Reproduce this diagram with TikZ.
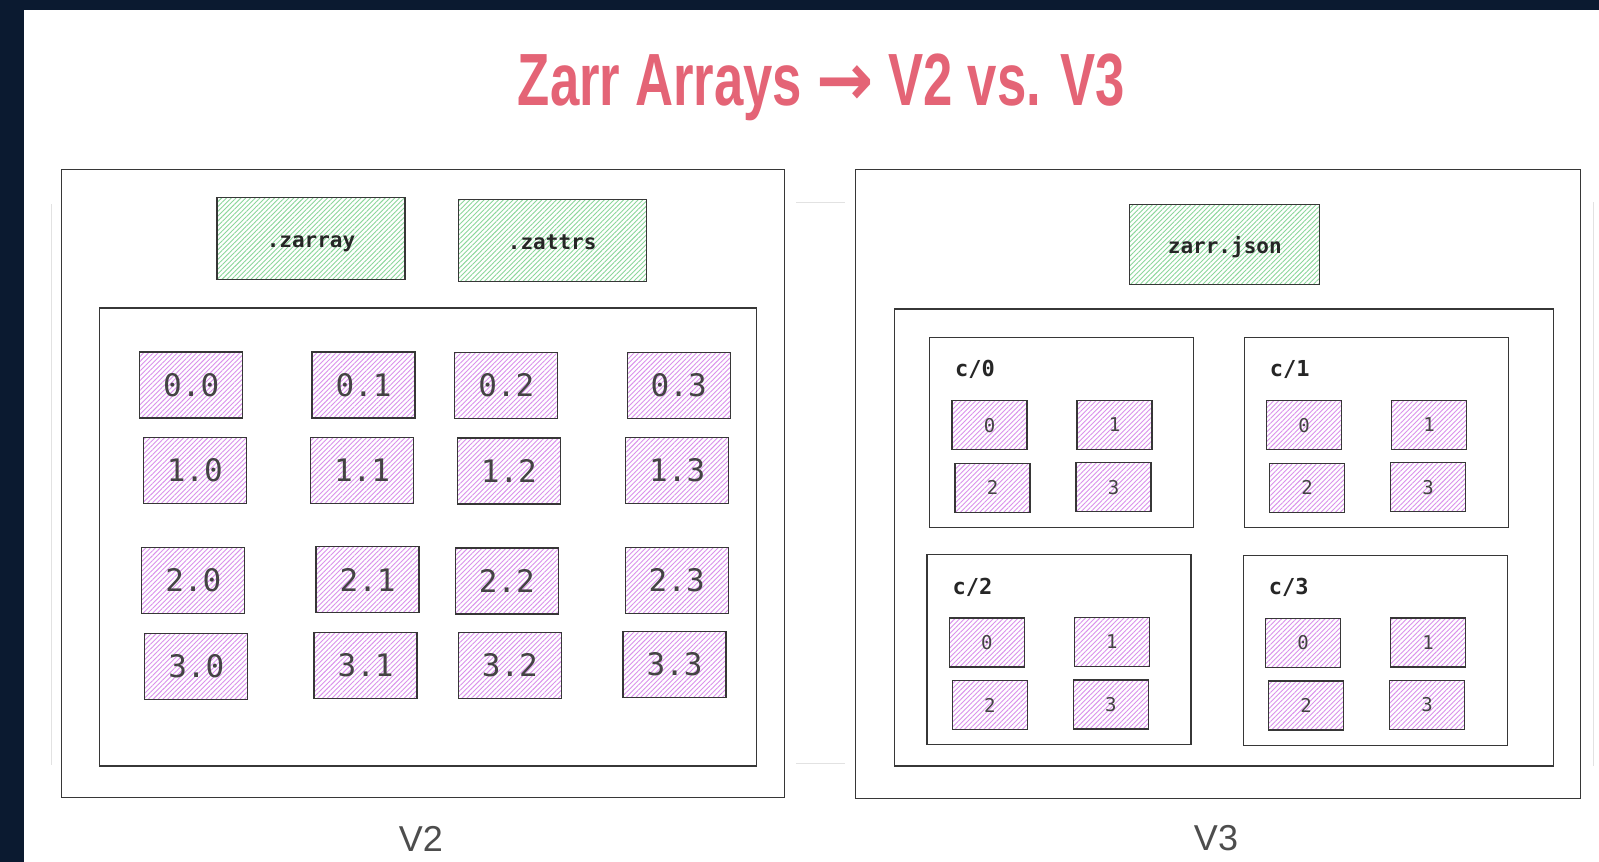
\documentclass[tikz,border=0pt]{standalone}
\usepackage{fontspec}
\usepackage{graphicx}
\setmainfont{Liberation Sans}
\newfontfamily\monof{DejaVu Sans Mono}
\newfontfamily\arrowf{DejaVu Sans}
\usetikzlibrary{patterns.meta}
\definecolor{navy}{RGB}{11,26,48}
\definecolor{titlered}{RGB}{228,100,118}
\definecolor{boxline}{RGB}{55,55,55}
\definecolor{hatchpink}{RGB}{218,145,236}
\definecolor{hatchgreen}{RGB}{140,215,155}
\definecolor{faint}{RGB}{226,226,226}
\definecolor{chunktext}{RGB}{68,68,68}
\definecolor{labeltext}{RGB}{77,77,77}
\tikzset{
  frame/.style={draw=boxline, line width=1.3pt, inner sep=0pt},
  outerbox/.style={frame},
  innerbox/.style={frame},
  groupbox/.style={frame, line width=1.2pt, minimum width=264pt, minimum height=190pt},
  greenbox/.style={frame, pattern={Lines[angle=45,distance=3.4pt,line width=0.9pt]}, pattern color=hatchgreen,
    font=\monof\bfseries\fontsize{21}{24}\selectfont, text=black!85, minimum width=188pt, minimum height=82pt,
    text height=22pt, text depth=4pt},
  chunkbox/.style={frame, pattern={Lines[angle=45,distance=3.4pt,line width=0.9pt]}, pattern color=hatchpink,
    font=\monof\fontsize{31}{34}\selectfont, text=chunktext, minimum width=103pt, minimum height=66pt},
  subchunk/.style={frame, line width=1.2pt, pattern={Lines[angle=45,distance=3.4pt,line width=0.9pt]}, pattern color=hatchpink,
    font=\monof\fontsize{19}{21}\selectfont, text=chunktext, minimum width=75pt, minimum height=49pt},
  grouplabel/.style={anchor=base west, inner sep=0pt, font=\monof\bfseries\fontsize{22}{25}\selectfont, text=black!85},
  verlabel/.style={anchor=base, inner sep=0pt, font=\fontsize{36}{40}\selectfont, text=labeltext},
  faintline/.style={draw=faint, line width=1pt}
}
\newcommand\vgroup[4]{%
  \node[groupbox] (#1) at (#2,#3) {};
  \node[grouplabel] (#1lab) at ([shift={(26,40)}]#1.north west) {#4};
  \node[subchunk] (#1s0) at ([shift={(60.5,88.5)}]#1.north west) {0};
  \node[subchunk] (#1s1) at ([shift={(185.5,88)}]#1.north west) {1};
  \node[subchunk] (#1s2) at ([shift={(63.5,151)}]#1.north west) {2};
  \node[subchunk] (#1s3) at ([shift={(184.5,150.5)}]#1.north west) {3};
}
\begin{document}
\begin{tikzpicture}[x=1pt,y=-1pt]
\useasboundingbox (0,0) rectangle (1599,862);
\fill[white] (0,0) rectangle (1599,862);
\fill[navy] (0,0) rectangle (1599,10);
\fill[navy] (0,0) rectangle (24,862);

% faint guide lines
\coordinate (fl1) at (51,204); \coordinate (fl2) at (51,765);
\coordinate (fr1) at (1593,202); \coordinate (fr2) at (1593,766);
\coordinate (fm1) at (796,202); \coordinate (fm2) at (845,202);
\coordinate (fm3) at (796,763); \coordinate (fm4) at (845,763);
\draw[faintline] (fl1) -- (fl2);
\draw[faintline] (fr1) -- (fr2);
\draw[faintline] (fm1) -- (fm2);
\draw[faintline] (fm3) -- (fm4);

% title
\node[anchor=base, inner sep=0pt, text=titlered] (title) at (821.5,105)
  {\resizebox{607pt}{\height}{\fontsize{74}{80}\selectfont\bfseries Zarr Arrays {\arrowf\scalebox{1.3}[1]{→}} V2 vs. V3}};

% V2 side
\node[outerbox, minimum width=723pt, minimum height=628pt] (v2outer) at (422.7,483.4) {};
\node[innerbox, minimum width=657pt, minimum height=458pt] (v2inner) at (428.3,537) {};
\node[greenbox] (zarray) at (311,238.6) {.zarray};
\node[greenbox] (zattrs) at (552.2,240.2) {.zattrs};

\node[chunkbox] (c00) at (191.2,385) {0.0};
\node[chunkbox] (c01) at (363.5,385) {0.1};
\node[chunkbox] (c02) at (506.3,385.5) {0.2};
\node[chunkbox] (c03) at (678.7,385.5) {0.3};
\node[chunkbox] (c10) at (194.8,470.6) {1.0};
\node[chunkbox] (c11) at (362,470.2) {1.1};
\node[chunkbox] (c12) at (508.9,471) {1.2};
\node[chunkbox] (c13) at (677.2,470.6) {1.3};
\node[chunkbox] (c20) at (193.3,580.2) {2.0};
\node[chunkbox] (c21) at (367.6,579.7) {2.1};
\node[chunkbox] (c22) at (506.8,581) {2.2};
\node[chunkbox] (c23) at (676.7,580.5) {2.3};
\node[chunkbox] (c30) at (196.3,666.5) {3.0};
\node[chunkbox] (c31) at (365.6,665.5) {3.1};
\node[chunkbox] (c32) at (509.9,665.5) {3.2};
\node[chunkbox] (c33) at (674.6,664.5) {3.3};

\node[verlabel] (v2lab) at (421,851) {V2};

% V3 side
\node[outerbox, minimum width=725pt, minimum height=629pt] (v3outer) at (1218.2,483.9) {};
\node[innerbox, minimum width=659pt, minimum height=457pt] (v3inner) at (1223.8,537.5) {};
\node[greenbox, minimum width=190pt, minimum height=80pt] (zarrjson) at (1224.8,244.3) {zarr.json};

\vgroup{g0}{1061.6}{432.4}{c/0}
\vgroup{g1}{1376.3}{432.4}{c/1}
\vgroup{g2}{1059}{649.6}{c/2}
\vgroup{g3}{1375.2}{650.1}{c/3}

\node[verlabel] (v3lab) at (1216,850) {V3};
\end{tikzpicture}
\end{document}
